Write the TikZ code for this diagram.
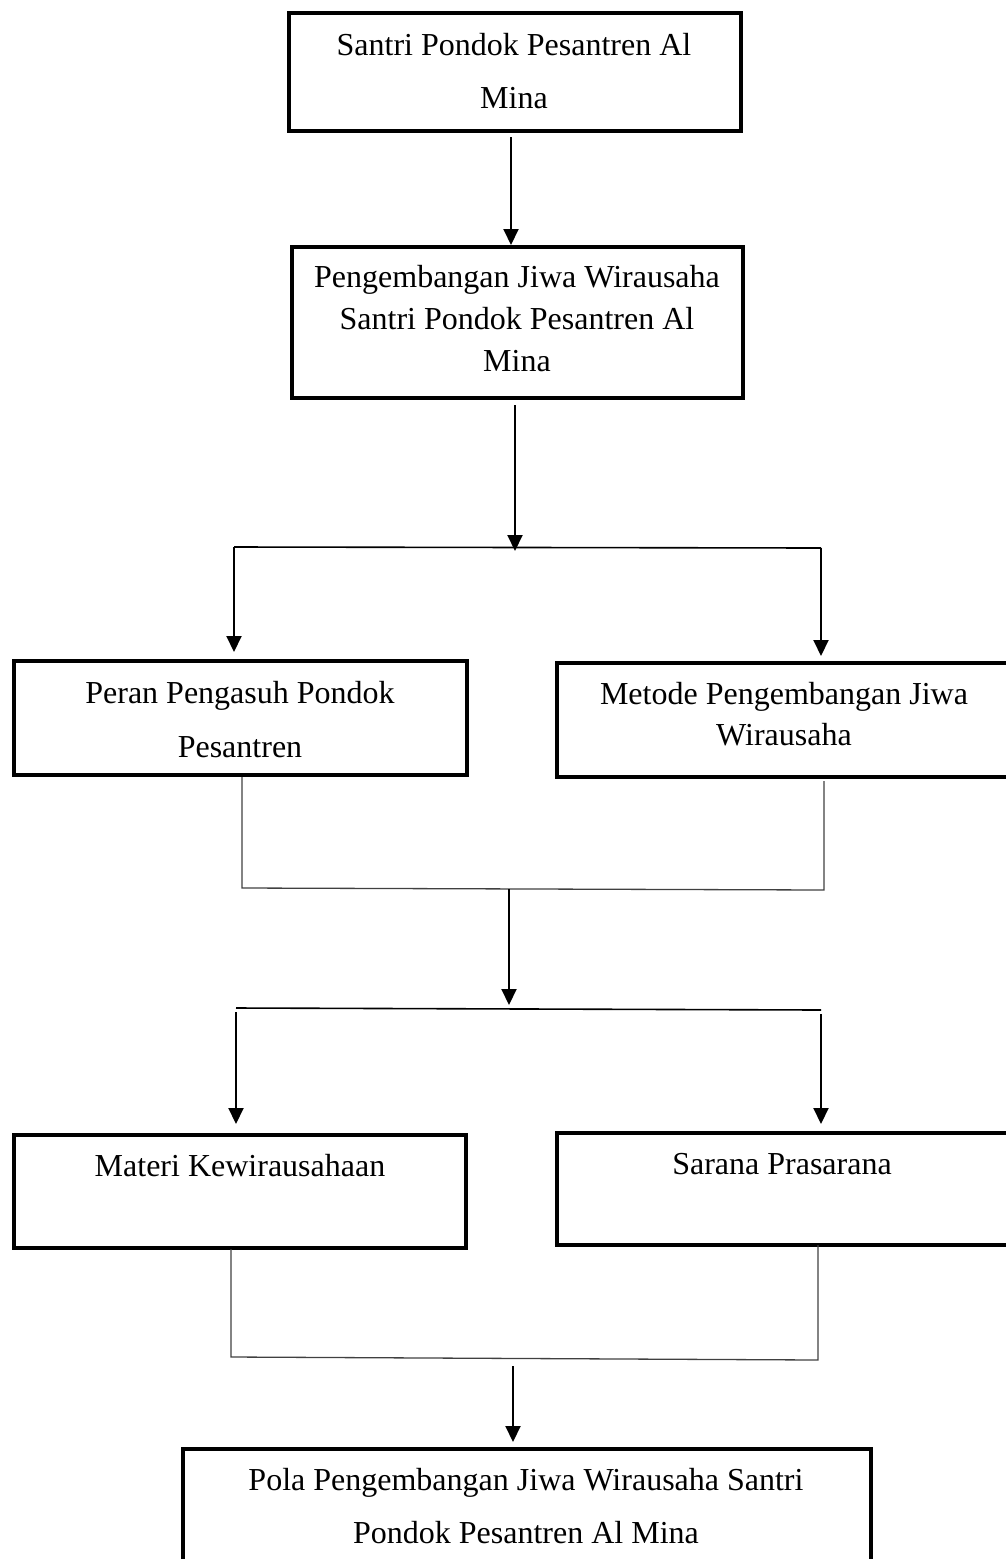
\documentclass[tikz,border=0pt]{standalone}
\usepackage{fontspec}
\setmainfont{Liberation Serif}
\usetikzlibrary{arrows.meta,fit}
\begin{document}
\begin{tikzpicture}[x=0.5pt,y=-0.5pt,
  box/.style={draw, line width=1.6pt, inner sep=0pt},
  lbl/.style={inner sep=0pt, anchor=base, align=center},
  arr/.style={line width=1pt, -{Triangle[length=8pt,width=7.5pt]}},
  thin/.style={line width=0.65pt, black!75}]
\useasboundingbox (0,0) rectangle (1006,1559);
% boxes
\node[box, fit={(289,13)(741,131)}] (b1) {};
\node[box, fit={(292,247)(743,398)}] (b2) {};
\node[box, fit={(14,661)(467,775)}] (b3) {};
\node[box, fit={(557,663)(1030,777)}] (b4) {};
\node[box, fit={(14,1135)(466,1248)}] (b5) {};
\node[box, fit={(557,1133)(1030,1245)}] (b6) {};
\node[box, fit={(183,1449)(871,1600)}] (b7) {};
% texts (anchor = baseline of last line)
\node[lbl, font=\fontsize{16}{26.5}\selectfont] (t1) at (514,108) {Santri Pondok Pesantren Al\\Mina};
\node[lbl, font=\fontsize{16}{21}\selectfont] (t2) at (517,371) {Pengembangan Jiwa Wirausaha\\Santri Pondok Pesantren Al\\Mina};
\node[lbl, font=\fontsize{16}{27}\selectfont] (t3) at (240,757) {Peran Pengasuh Pondok\\Pesantren};
\node[lbl, font=\fontsize{16}{20.5}\selectfont] (t4) at (784,745) {Metode Pengembangan Jiwa\\Wirausaha};
\node[lbl, font=\fontsize{16}{20}\selectfont] (t5) at (240,1176) {Materi Kewirausahaan};
\node[lbl, font=\fontsize{16}{20}\selectfont] (t6) at (782,1174) {Sarana Prasarana};
\node[lbl, font=\fontsize{16}{26.5}\selectfont] (t7) at (526,1543) {Pola Pengembangan Jiwa Wirausaha Santri\\Pondok Pesantren Al Mina};
% junction coordinates
\coordinate (a1s) at (511,137); \coordinate (a1e) at (511,245);
\coordinate (a2s) at (515,405); \coordinate (j1) at (515,551);
\coordinate (l1) at (234,547); \coordinate (r1) at (821,548);
\coordinate (l1e) at (234,652); \coordinate (r1e) at (821,656);
\coordinate (p3) at (242,777); \coordinate (p4) at (824,781);
\coordinate (q3) at (242,888); \coordinate (q4) at (824,890);
\coordinate (a3s) at (509,889); \coordinate (j2) at (509,1005);
\coordinate (l2) at (236,1008); \coordinate (r2) at (821,1010);
\coordinate (l2e) at (236,1124); \coordinate (r2e) at (821,1124);
\coordinate (p5) at (231,1249); \coordinate (p6) at (818,1245);
\coordinate (q5) at (231,1357); \coordinate (q6) at (818,1360);
\coordinate (a4s) at (513,1366); \coordinate (a4e) at (513,1442);
% connectors
\draw[arr] (a1s) -- (a1e);
\draw[arr] (a2s) -- (j1);
\draw[line width=0.8pt] (l1) -- (r1);
\draw[arr] (l1) -- (l1e);
\draw[arr] (r1) -- (r1e);
\draw[thin] (p3) -- (q3) -- (q4) -- (p4);
\draw[arr] (a3s) -- (j2);
\draw[line width=0.8pt] (l2) -- (r2);
\draw[arr] ([yshift=-2pt]l2) -- (l2e);
\draw[arr] ([yshift=-2pt]r2) -- (r2e);
\draw[thin] (p5) -- (q5) -- (q6) -- (p6);
\draw[arr] (a4s) -- (a4e);
\end{tikzpicture}
\end{document}
